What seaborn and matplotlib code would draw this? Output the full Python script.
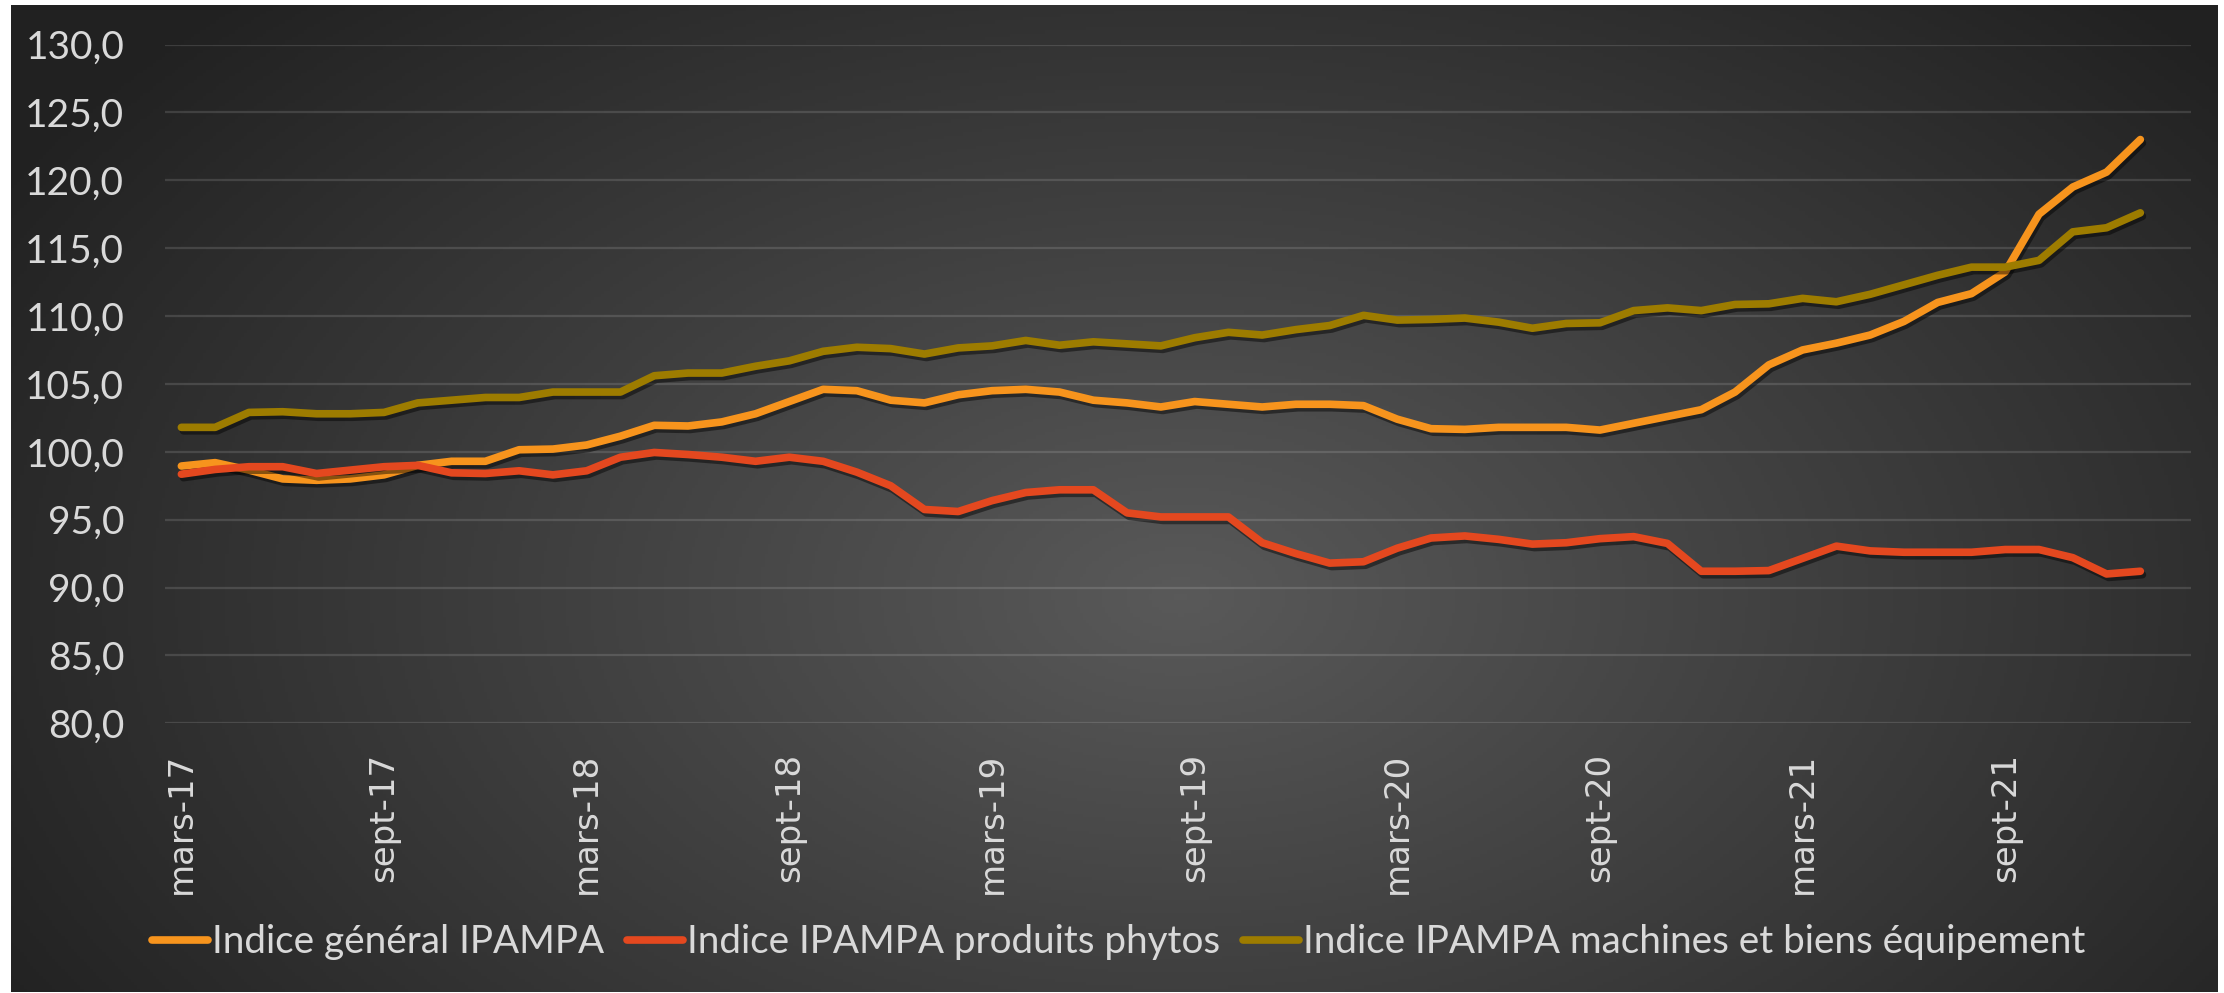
import numpy as np
import pandas as pd
import matplotlib
matplotlib.use("Agg")
import matplotlib.pyplot as plt
import matplotlib.patheffects as pe
from matplotlib.lines import Line2D
import seaborn as sns

# mois de mars 2017 a janvier 2022 (axe par categories)
mois = pd.date_range("2017-03-01", periods=59, freq="MS")
tick_labels = ["mars-17", "sept-17", "mars-18", "sept-18", "mars-19",
               "sept-19", "mars-20", "sept-20", "mars-21", "sept-21"]

indice_general = [98.95, 99.2, 98.65, 98.0, 97.9, 98.0, 98.3, 99.0, 99.3, 99.3,
                  100.15, 100.2, 100.5, 101.15, 101.95, 101.9, 102.2, 102.8, 103.7, 104.6,
                  104.5, 103.8, 103.6, 104.2, 104.5, 104.6, 104.4, 103.8, 103.6, 103.3,
                  103.7, 103.5, 103.3, 103.5, 103.5, 103.4, 102.4, 101.7, 101.65, 101.8,
                  101.8, 101.8, 101.6, 102.1, 102.6, 103.1, 104.4, 106.4, 107.5, 108.0,
                  108.6, 109.6, 111.0, 111.65, 113.25, 117.5, 119.5, 120.6, 123.0]
indice_phytos = [98.35, 98.7, 98.9, 98.9, 98.4, 98.65, 98.9, 99.0, 98.45, 98.4,
                 98.6, 98.3, 98.6, 99.6, 99.95, 99.8, 99.6, 99.3, 99.6, 99.3,
                 98.5, 97.5, 95.75, 95.6, 96.4, 97.0, 97.2, 97.2, 95.5, 95.2,
                 95.2, 95.2, 93.3, 92.5, 91.8, 91.9, 92.9, 93.65, 93.8, 93.55,
                 93.2, 93.3, 93.6, 93.75, 93.25, 91.2, 91.2, 91.25, 92.15, 93.05,
                 92.7, 92.6, 92.6, 92.6, 92.8, 92.8, 92.2, 91.0, 91.2]
indice_machines = [101.8, 101.8, 102.9, 102.95, 102.8, 102.8, 102.9, 103.6, 103.8, 104.0,
                   104.0, 104.4, 104.4, 104.4, 105.6, 105.8, 105.8, 106.3, 106.7, 107.4,
                   107.7, 107.6, 107.2, 107.65, 107.8, 108.2, 107.85, 108.1, 107.95, 107.8,
                   108.4, 108.8, 108.6, 109.0, 109.3, 110.05, 109.7, 109.75, 109.85, 109.55,
                   109.1, 109.45, 109.5, 110.4, 110.6, 110.4, 110.85, 110.9, 111.3, 111.05,
                   111.6, 112.3, 113.0, 113.6, 113.6, 114.1, 116.2, 116.5, 117.6]

series_names = ["Indice général IPAMPA", "Indice IPAMPA produits phytos",
                "Indice IPAMPA machines et biens équipement"]
colors = ["#F7941D", "#E4481F", "#9D7C00"]

n = len(mois)
df = pd.DataFrame({
    "pos": list(range(n)) * 3,
    "valeur": indice_general + indice_phytos + indice_machines,
    "serie": [series_names[0]] * n + [series_names[1]] * n + [series_names[2]] * n,
})

sns.set_style("dark")
plt.rcParams["font.family"] = ["Lato", "DejaVu Sans"]
text_col = "#D9D9D9"

W, H = 2224, 993
fig = plt.figure(figsize=(W / 100, H / 100), dpi=100, facecolor="white")

# fond degrade radial
bg = fig.add_axes([11 / W, 1 / H, 2207 / W, 987 / H])
yy, xx = np.mgrid[0:1:300j, 0:1:700j]
d = np.sqrt(((xx - 0.53) / 0.62) ** 2 + ((yy - 0.6) / 0.85) ** 2)
val = 0.35 - (0.35 - 0.13) * np.clip(d, 0, 1)
bg.imshow(np.dstack([val] * 3), extent=[0, 1, 0, 1], aspect="auto")
bg.axis("off")

ax = fig.add_axes([164.5 / W, 1 - 723.3 / H, (2191 - 164.5) / W, (723.3 - 44.5) / H])
ax.patch.set_alpha(0)

sns.lineplot(data=df, x="pos", y="valeur", hue="serie", palette=dict(zip(series_names, colors)),
             linewidth=5.5, ax=ax, legend=False)
for line in ax.lines:
    line.set_solid_capstyle("round")
    line.set_solid_joinstyle("round")
    line.set_path_effects([pe.SimpleLineShadow(offset=(1.5, -2.5), shadow_color="black", alpha=0.45),
                           pe.Normal()])

ax.set_xlim(-0.5, n + 0.5)
ax.set_ylim(80, 130)
yt = np.arange(80, 131, 5)
ax.set_yticks(yt)
ax.set_yticklabels([f"{v:.1f}".replace(".", ",") for v in yt], fontsize=28, color=text_col)
ax.set_xticks(range(0, 6 * len(tick_labels), 6))
ax.set_xticklabels(tick_labels, rotation=90, fontsize=24.5, color=text_col, family="DejaVu Sans")
ax.tick_params(axis="x", length=0, pad=21)
ax.tick_params(axis="y", length=0, pad=29)
ax.set_xlabel("")
ax.set_ylabel("")
ax.grid(axis="y", color="white", alpha=0.13, linewidth=1.6)
ax.grid(axis="x", visible=False)
for s in ax.spines.values():
    s.set_visible(False)

handles = [Line2D([0], [0], color=c, lw=5.5, solid_capstyle="round") for c in colors]
fig.legend(handles, series_names, loc="center", bbox_to_anchor=(0.503, 0.051), ncol=3,
           frameon=False, fontsize=27.8, labelcolor=text_col, handlelength=1.45,
           handletextpad=0.1, columnspacing=0.6)

fig.savefig("out.png", dpi=100, facecolor="white")
